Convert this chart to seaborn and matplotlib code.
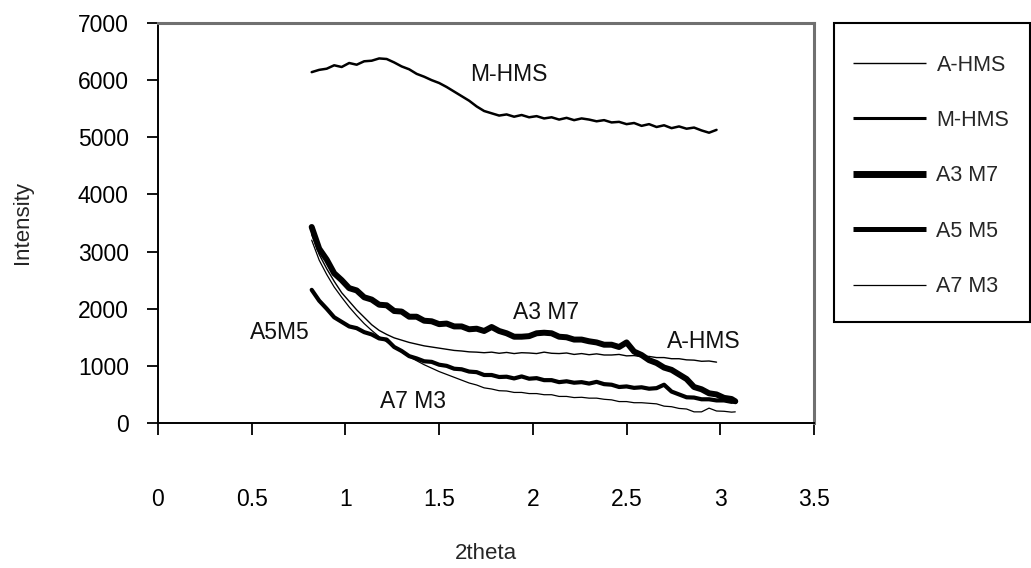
import numpy as np
import pandas as pd
import matplotlib
matplotlib.use("Agg")
import matplotlib.pyplot as plt
from matplotlib.patches import Rectangle
import seaborn as sns

# 2theta grid shared by all scans
two_theta = [0.82, 0.86, 0.90, 0.94, 0.98, 1.02, 1.06, 1.10, 1.14, 1.18,
             1.22, 1.26, 1.30, 1.34, 1.38, 1.42, 1.46, 1.50, 1.54, 1.58,
             1.62, 1.66, 1.70, 1.74, 1.78, 1.82, 1.86, 1.90, 1.94, 1.98,
             2.02, 2.06, 2.10, 2.14, 2.18, 2.22, 2.26, 2.30, 2.34, 2.38,
             2.42, 2.46, 2.50, 2.54, 2.58, 2.62, 2.66, 2.70, 2.74, 2.78,
             2.82, 2.86, 2.90, 2.94, 2.98, 3.02, 3.06, 3.08]

a_hms = [3300, 2950, 2700, 2480, 2280, 2130, 1980, 1850, 1720, 1620,
         1550, 1490, 1450, 1410, 1380, 1350, 1330, 1310, 1290, 1270,
         1260, 1245, 1240, 1230, 1240, 1220, 1235, 1215, 1230, 1225,
         1215, 1240, 1220, 1215, 1225, 1200, 1215, 1195, 1210, 1190,
         1190, 1200, 1175, 1180, 1160, 1165, 1145, 1145, 1125, 1125,
         1105, 1100, 1080, 1085, 1065]

m_hms = [6140, 6180, 6200, 6260, 6230, 6300, 6270, 6330, 6340, 6380,
         6370, 6310, 6240, 6190, 6110, 6060, 6000, 5950, 5880, 5800,
         5720, 5640, 5540, 5460, 5420, 5380, 5400, 5360, 5390, 5350,
         5370, 5330, 5350, 5310, 5340, 5300, 5330, 5310, 5280, 5300,
         5260, 5270, 5230, 5250, 5200, 5230, 5180, 5210, 5160, 5190,
         5150, 5170, 5120, 5080, 5130]

a3m7 = [3430, 3050, 2860, 2620, 2500, 2360, 2320, 2200, 2160, 2070,
        2060, 1960, 1950, 1860, 1860, 1790, 1780, 1730, 1740, 1690,
        1690, 1640, 1650, 1610, 1680, 1610, 1570, 1510, 1510, 1520,
        1570, 1580, 1570, 1510, 1500, 1460, 1460, 1430, 1410, 1370,
        1370, 1330, 1410, 1250, 1190, 1100, 1050, 970, 930, 850,
        770, 630, 590, 520, 500, 440, 420, 380]

a5m5 = [2330, 2140, 2000, 1850, 1770, 1690, 1660, 1590, 1550, 1480,
        1460, 1330, 1260, 1170, 1130, 1080, 1070, 1020, 1000, 950,
        940, 900, 890, 840, 840, 805, 810, 780, 815, 775,
        785, 750, 750, 715, 730, 705, 715, 690, 720, 680,
        670, 630, 640, 615, 625, 600, 610, 670, 550, 500,
        450, 445, 415, 415, 395, 395, 370, 375]

a7m3 = [3200, 2850, 2600, 2380, 2200, 2030, 1880, 1740, 1620, 1510,
        1420, 1330, 1240, 1160, 1090, 1020, 960, 900, 850, 800,
        750, 700, 665, 615, 595, 565, 560, 535, 535, 515,
        515, 495, 495, 465, 465, 445, 450, 435, 435, 415,
        405, 375, 375, 355, 355, 345, 335, 295, 285, 255,
        245, 195, 195, 260, 210, 205, 190, 195]

series_names = ["A-HMS", "M-HMS", "A3 M7", "A5 M5", "A7 M3"]
series_values = [a_hms, m_hms, a3m7, a5m5, a7m3]
line_widths = [1.0, 1.8, 4.3, 3.0, 0.9]
legend_widths = [1.0, 2.2, 5.0, 3.6, 0.9]

x_ticks = [0, 0.5, 1, 1.5, 2, 2.5, 3, 3.5]
y_ticks = [0, 1000, 2000, 3000, 4000, 5000, 6000, 7000]

# in-plot labels: text, x, y
curve_labels = [("M-HMS", 1.87, 6090), ("A3 M7", 2.07, 1940),
                ("A5M5", 0.65, 1590), ("A7 M3", 1.36, 368),
                ("A-HMS", 2.91, 1420)]

sns.set_style("white")
plt.rcParams['font.family'] = ['Liberation Sans', 'DejaVu Sans']

fig = plt.figure(figsize=(10.31, 5.68), dpi=100)
ax = fig.add_axes([158 / 1031, 1 - 423 / 568, 656 / 1031, 400 / 568])

handles = []
for name, vals, lw, lgw in zip(series_names, series_values, line_widths, legend_widths):
    df = pd.DataFrame({"x": two_theta[:len(vals)], "y": vals})
    sns.lineplot(data=df, x="x", y="y", ax=ax, color="black", linewidth=lw,
                 sort=False, estimator=None)
    handles.append(plt.Line2D([], [], color="black", linewidth=lgw, solid_capstyle="butt"))

for txt, tx, ty in curve_labels:
    ax.text(tx, ty, txt, ha="center", va="center", fontsize=16.5, color="#111111")

ax.set_xlim(0, 3.5)
ax.set_ylim(0, 7000)
ax.set_xticks(x_ticks)
ax.set_xticklabels([str(t) for t in x_ticks])
ax.set_yticks(y_ticks)
ax.set_yticklabels([str(t) for t in y_ticks])

ax.tick_params(axis="x", direction="out", length=8.6, width=1.3, pad=38, labelsize=16.5,
               bottom=True, colors="black")
ax.tick_params(axis="y", direction="out", length=8, width=1.3, pad=13, labelsize=16.5,
               left=True, colors="black")

for side in ["left", "bottom"]:
    ax.spines[side].set_color("black")
    ax.spines[side].set_linewidth(1.4)
for side in ["top", "right"]:
    ax.spines[side].set_color("#707070")
    ax.spines[side].set_linewidth(2.2)

ax.set_xlabel("2theta", fontsize=16)
ax.set_ylabel("Intensity", fontsize=16)
ax.xaxis.set_label_coords(0.5, -0.3)
ax.yaxis.set_label_coords(-0.19, 0.5)

# legend box drawn separately so the entries can sit lower inside it
fig.patches.append(Rectangle((834 / 1031, 1 - 322 / 568), 196 / 1031, 299 / 568,
                             transform=fig.transFigure, fill=False,
                             edgecolor="black", linewidth=1.5))
fig.legend(handles, series_names, loc="upper left",
           bbox_to_anchor=(831 / 1031, 1 - 33 / 568), bbox_transform=fig.transFigure,
           borderaxespad=0, frameon=False, fontsize=15.5, borderpad=1.0,
           labelspacing=1.6, handlelength=3.4, handletextpad=0.5)

fig.savefig("out.png", dpi=100)
